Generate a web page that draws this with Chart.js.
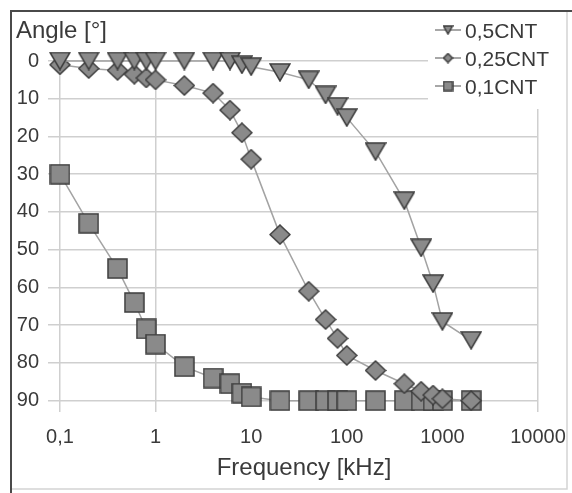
<!DOCTYPE html>
<html lang="en">
  <head>
    <meta charset="UTF-8" />
    <title>Angle vs frequency</title>
    <style>
      body { margin: 0; background: #fff; }
      #wrap { width: 572px; height: 493px; }
    </style>
  </head>
  <body>
    <div id="wrap"><canvas id="myChart" width="572" height="493"></canvas></div>

    <script src="https://cdn.jsdelivr.net/npm/chart.js"></script>
    <script>
      // data
      const freq = [0.1, 0.2, 0.4, 0.6, 0.8, 1, 2, 4, 6, 8, 10, 20, 40, 60, 80, 100, 200, 400, 600, 800, 1000, 2000];
      const cnt05 = [0, 0, 0, 0, 0, 0, 0, 0, 0, 1, 1.5, 3, 5, 9, 12, 15, 24, 37, 49.5, 59, 69, 74];
      const cnt025 = [1, 2, 2.5, 3.5, 4.5, 5, 6.5, 8.5, 13, 19, 26, 46, 61, 68.5, 73.5, 78, 82, 85.5, 87.5, 88.5, 89.5, 90];
      const cnt01 = [30, 43, 55, 64, 71, 75, 81, 84, 85.5, 88, 89, 90, 90, 90, 90, 90, 90, 90, 90, 90, 90, 90];
      const seriesNames = ["0,5CNT", "0,25CNT", "0,1CNT"];
      const xTicks = [0.1, 1, 10, 100, 1000, 10000];
      const yTicks = [0, 10, 20, 30, 40, 50, 60, 70, 80, 90];
      const xGridAt = [0.1, 1, 10000];

      const textColor = "#3a3a3a";
      const fill = "#8a8a8a";
      const edge = "#3c3c3c";
      const lineCol = "#a3a3a3";

      function marker(kind, w, h) {
        const c = document.createElement("canvas");
        c.width = w;
        c.height = h;
        const g = c.getContext("2d");
        g.beginPath();
        if (kind == "tri") {
          g.moveTo(1, 1);
          g.lineTo(w - 1, 1);
          g.lineTo(w / 2, h - 1);
          g.closePath();
        } else if (kind == "dia") {
          g.moveTo(w / 2, 1);
          g.lineTo(w - 1, h / 2);
          g.lineTo(w / 2, h - 1);
          g.lineTo(1, h / 2);
          g.closePath();
        } else {
          g.rect(1, 1, w - 2, h - 2);
        }
        g.fillStyle = fill;
        g.fill();
        g.lineWidth = 1.5;
        g.strokeStyle = edge;
        g.stroke();
        return c;
      }

      const styles = [marker("tri", 22, 19), marker("dia", 22, 21), marker("sq", 21, 21)];
      const smallStyles = [marker("tri", 11, 10), marker("dia", 11, 11), marker("sq", 11, 11)];

      function pts(vals) {
        return freq.map((f, i) => ({ x: f, y: vals[i] }));
      }

      const textPlugin = {
        id: "extras",
        beforeDraw(chart) {
          const ctx = chart.ctx;
          ctx.save();
          ctx.fillStyle = "#fff";
          ctx.fillRect(0, 0, chart.width, chart.height);
          ctx.restore();
        },
        afterDraw(chart) {
          const ctx = chart.ctx;
          ctx.save();
          // frame
          ctx.strokeStyle = "#d4d4d4";
          ctx.lineWidth = 1.5;
          ctx.beginPath();
          ctx.moveTo(567, 11);
          ctx.lineTo(567, 489);
          ctx.lineTo(11, 489);
          ctx.stroke();
          ctx.strokeStyle = "#4a4a4a";
          ctx.lineWidth = 2;
          ctx.beginPath();
          ctx.moveTo(11, 493);
          ctx.lineTo(11, 11);
          ctx.lineTo(572, 11);
          ctx.stroke();

          // titles
          ctx.fillStyle = textColor;
          ctx.font = "24px 'Liberation Sans', Arial, sans-serif";
          ctx.textBaseline = "alphabetic";
          ctx.textAlign = "left";
          ctx.fillText("Angle [°]", 16, 38);
          ctx.textAlign = "center";
          ctx.fillText("Frequency [kHz]", 304, 475);

          // legend
          ctx.fillStyle = "#fff";
          ctx.fillRect(428, 13, 138, 96);
          const ds = chart.data.datasets;
          ctx.font = "21px 'Liberation Sans', Arial, sans-serif";
          ctx.textAlign = "left";
          for (let i = 0; i < ds.length; i++) {
            const cy = 30 + i * 28;
            ctx.strokeStyle = "#8a8a8a";
            ctx.lineWidth = 1.5;
            ctx.beginPath();
            ctx.moveTo(435, cy);
            ctx.lineTo(461, cy);
            ctx.stroke();
            const s = smallStyles[i];
            ctx.drawImage(s, 448 - s.width / 2, cy - s.height / 2);
            ctx.fillStyle = textColor;
            ctx.fillText(ds[i].label, 465, cy + 8);
          }
          ctx.restore();
        },
      };

      const data = {
        datasets: [
          { label: seriesNames[0], data: pts(cnt05), pointStyle: styles[0] },
          { label: seriesNames[1], data: pts(cnt025), pointStyle: styles[1] },
          { label: seriesNames[2], data: pts(cnt01), pointStyle: styles[2] },
        ].map((d) => Object.assign(d, {
          showLine: true,
          clip: false,
          borderColor: lineCol,
          borderWidth: 1.5,
          backgroundColor: fill,
          pointRadius: 10,
          pointHoverRadius: 10,
        })),
      };

      const tickFont = { family: "'Liberation Sans', Arial, sans-serif", size: 20 };

      const config = {
        type: "scatter",
        data,
        options: {
          responsive: false,
          animation: false,
          layout: { padding: { top: 61, right: 34, left: 0, bottom: 0 } },
          plugins: { legend: { display: false }, tooltip: { enabled: false } },
          scales: {
            x: {
              type: "logarithmic",
              min: 0.075,
              max: 10000,
              afterBuildTicks: (s) => { s.ticks = xTicks.map((v) => ({ value: v })); },
              afterFit: (s) => { s.height = 81; s.paddingLeft = 0; s.paddingRight = 0; },
              ticks: {
                autoSkip: false,
                maxRotation: 0,
                padding: 13,
                color: textColor,
                font: tickFont,
                callback: (v) => String(v).replace(".", ","),
              },
              grid: {
                drawTicks: false,
                lineWidth: 1.5,
                color: (c) => (c.tick && xGridAt.includes(c.tick.value) ? "#cfcfcf" : "rgba(0,0,0,0)"),
              },
              border: { display: false },
            },
            y: {
              reverse: true,
              min: 0,
              max: 93,
              afterBuildTicks: (s) => { s.ticks = yTicks.map((v) => ({ value: v })); },
              afterFit: (s) => { s.width = 48; s.paddingTop = 0; s.paddingBottom = 0; },
              ticks: { padding: 9, color: textColor, font: tickFont },
              grid: { drawTicks: false, lineWidth: 1.5, color: "#cfcfcf" },
              border: { display: false },
            },
          },
        },
        plugins: [textPlugin],
      };

      var myChart = new Chart(document.getElementById("myChart"), config);
    </script>
  </body>
</html>
